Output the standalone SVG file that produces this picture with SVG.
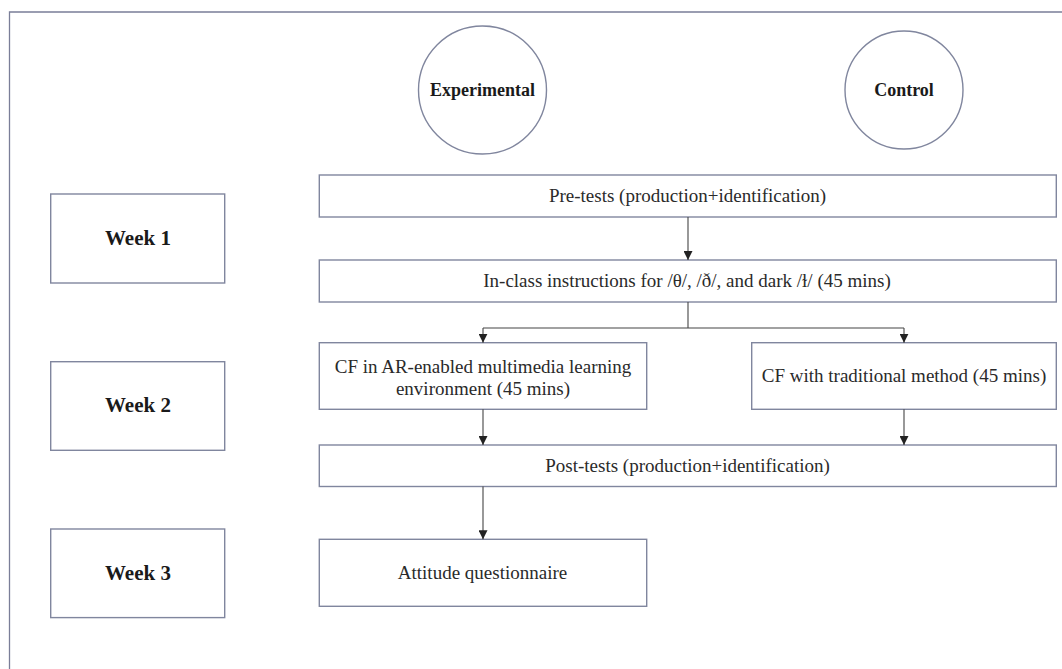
<svg xmlns="http://www.w3.org/2000/svg" width="1062" height="669" viewBox="0 0 1062 669">
<style>
.box{fill:#fff;stroke:#80869e;stroke-width:1.4}
.frame{fill:none;stroke:#7a7e98;stroke-width:1.3}
.t{font-size:19px;fill:#2a2a2a;text-anchor:middle}
.b{font-size:21px;font-weight:bold;fill:#1a1a1a;text-anchor:middle}
.g{font-size:18px;font-weight:bold;fill:#1a1a1a;text-anchor:middle}
.c{fill:none;stroke:#444;stroke-width:1.1}
</style>
<defs>
<marker id="ah" viewBox="0 0 10 10" refX="10" refY="5" markerWidth="9" markerHeight="9" markerUnits="userSpaceOnUse" orient="auto">
<path d="M0,0 L10,5 L0,10 z" fill="#222"/>
</marker>
</defs>
<rect width="1062" height="669" fill="#fff"/>
<path class="frame" d="M1062,12 L9.5,12 L9.5,669"/>
<g font-family="Liberation Serif, DejaVu Serif, serif">
<g id="experimental">
<ellipse class="box" cx="482.5" cy="90" rx="64" ry="64"/>
<text class="g" x="482.5" y="96">Experimental</text>
</g>
<g id="control">
<ellipse class="box" cx="904" cy="90" rx="59" ry="59"/>
<text class="g" x="904" y="96">Control</text>
</g>

<g id="week1">
<rect class="box" x="50.7" y="194" width="174" height="89"/>
<text class="b" x="138" y="245">Week 1</text>
</g>
<g id="week2">
<rect class="box" x="50.7" y="361.7" width="174" height="88.6"/>
<text class="b" x="138" y="412">Week 2</text>
</g>
<g id="week3">
<rect class="box" x="50.7" y="529" width="174" height="88.6"/>
<text class="b" x="138" y="580">Week 3</text>
</g>

<g id="pretests">
<rect class="box" x="319.3" y="175" width="737" height="42"/>
<text class="t" x="687.5" y="202">Pre-tests (production+identification)</text>
</g>
<g id="inclass">
<rect class="box" x="319.3" y="260" width="737" height="42"/>
<text class="t" x="687" y="287">In-class instructions for /θ/, /ð/, and dark /ɫ/ (45 mins)</text>
</g>
<g id="cf-ar">
<rect class="box" x="319.3" y="342.7" width="327.4" height="66.6"/>
<text class="t" x="483" y="372.5">CF in AR-enabled multimedia learning</text>
<text class="t" x="483" y="394.5">environment (45 mins)</text>
</g>
<g id="cf-trad">
<rect class="box" x="751.7" y="342.7" width="304.6" height="66.6"/>
<text class="t" x="904" y="382">CF with traditional method (45 mins)</text>
</g>
<g id="posttests">
<rect class="box" x="319.3" y="445" width="737" height="41.5"/>
<text class="t" x="687.5" y="472">Post-tests (production+identification)</text>
</g>
<g id="attitude">
<rect class="box" x="319.3" y="539.3" width="327.4" height="67"/>
<text class="t" x="482.5" y="579">Attitude questionnaire</text>
</g>
</g>
<g id="connectors">
<line class="c" x1="688" y1="217" x2="688" y2="260" marker-end="url(#ah)"/>
<path class="c" d="M688,302 L688,328"/>
<path class="c" d="M483,328 L904,328"/>
<line class="c" x1="483" y1="328" x2="483" y2="342.7" marker-end="url(#ah)"/>
<line class="c" x1="904" y1="328" x2="904" y2="342.7" marker-end="url(#ah)"/>
<line class="c" x1="483" y1="409.3" x2="483" y2="445" marker-end="url(#ah)"/>
<line class="c" x1="904" y1="409.3" x2="904" y2="445" marker-end="url(#ah)"/>
<line class="c" x1="483" y1="486.5" x2="483" y2="539.3" marker-end="url(#ah)"/>
</g>
</svg>
